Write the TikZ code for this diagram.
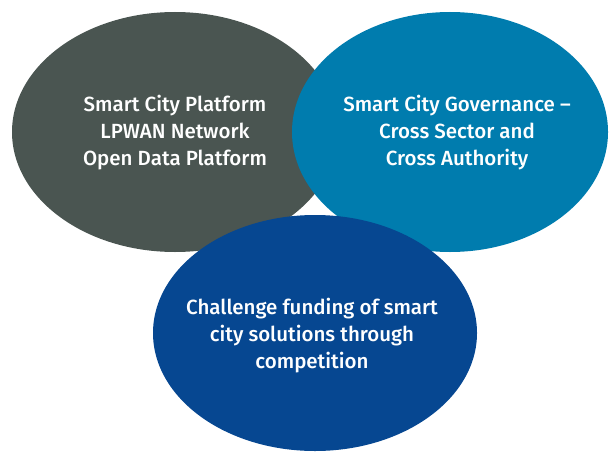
\documentclass[tikz,border=0pt]{standalone}
\usepackage{fontspec}
\setmainfont{Fira Sans}[UprightFont=* Medium]
\usetikzlibrary{shapes.geometric}
\definecolor{slategrey}{RGB}{74,85,81}
\definecolor{govblue}{RGB}{0,124,174}
\definecolor{navyblue}{RGB}{6,71,145}

\begin{document}
\begin{tikzpicture}[x=1pt,y=-1pt,
    blob/.style={ellipse,inner sep=0pt,draw=none},
    blob text/.style={text=white,align=center,font=\fontsize{20.5}{27}\selectfont}]
    \useasboundingbox (0,0) rectangle (609,452);

    % les trois ellipses
    \node[blob,fill=slategrey,minimum width=326pt,minimum height=240pt] (platform) at (175,132) {};
    \node[blob,fill=govblue,minimum width=316pt,minimum height=240pt] (governance) at (450,132) {};
    \node[blob,fill=navyblue,minimum width=324pt,minimum height=236pt] (challenge) at (315,333) {};

    % textes
    \node[blob text] (platformtext) at ([yshift=-1pt]platform.center) {Smart City Platform\\LPWAN Network\\Open Data Platform};
    \node[blob text] (governancetext) at ([xshift=7pt,yshift=-1pt]governance.center) {Smart City Governance --\\Cross Sector and\\Cross Authority};
    \node[blob text] (challengetext) at ([xshift=-3pt,yshift=-3pt]challenge.center) {Challenge funding of smart\\city solutions through\\competition};
\end{tikzpicture}
\end{document}
